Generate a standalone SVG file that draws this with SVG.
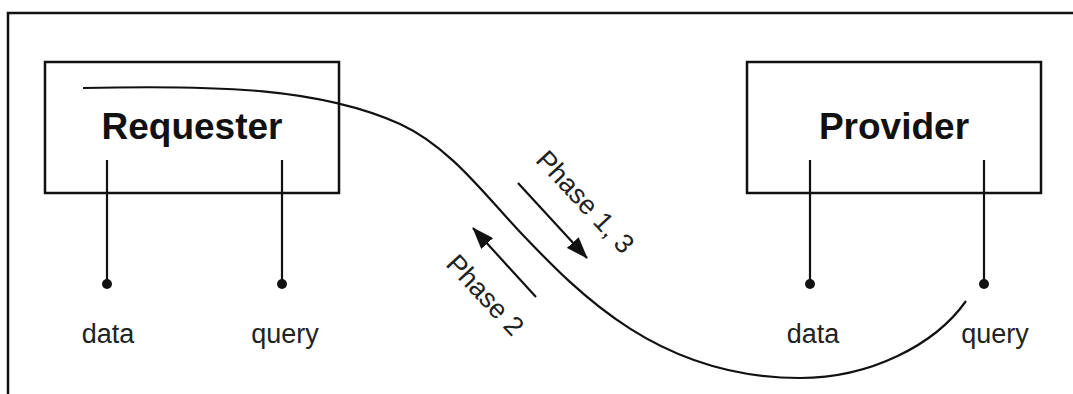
<svg xmlns="http://www.w3.org/2000/svg" width="1073" height="394" viewBox="0 0 1073 394">
<defs>
<style>
.box{fill:none;stroke:#111;stroke-width:2.5}
.ln{fill:none;stroke:#111;stroke-width:2.2}
.dot{fill:#111}
.title{font-family:"Liberation Sans",Arial,sans-serif;font-weight:bold;font-size:37px;fill:#111;text-anchor:middle}
.lbl{font-family:"Liberation Sans",Arial,sans-serif;font-size:27px;fill:#222;text-anchor:middle}
</style>
<marker id="ah" viewBox="0 0 22 16" refX="21" refY="8" markerWidth="22" markerHeight="16" markerUnits="userSpaceOnUse" orient="auto">
<path d="M0,0 L22,8 L0,16 Z" fill="#111"/>
</marker>
</defs>
<rect width="1073" height="394" fill="#fff"/>
<g id="frame">
<path class="box" d="M8,394 V13 H1073"/>
</g>
<g id="requester">
<rect class="box" x="45" y="62" width="294" height="131"/>
<text class="title" x="192" y="139">Requester</text>
<line class="ln" x1="107" y1="160" x2="107" y2="284"/>
<circle class="dot" cx="107" cy="284" r="5"/>
<text class="lbl" x="108" y="343">data</text>
<line class="ln" x1="282" y1="160" x2="282" y2="284"/>
<circle class="dot" cx="282" cy="284" r="5"/>
<text class="lbl" x="285" y="343">query</text>
</g>
<g id="provider">
<rect class="box" x="747" y="62" width="294" height="131"/>
<text class="title" x="894" y="139">Provider</text>
<line class="ln" x1="810" y1="160" x2="810" y2="284"/>
<circle class="dot" cx="810" cy="284" r="5"/>
<text class="lbl" x="813" y="343">data</text>
<line class="ln" x1="984" y1="160" x2="984" y2="284"/>
<circle class="dot" cx="984" cy="284" r="5"/>
<text class="lbl" x="995" y="343">query</text>
</g>
<g id="connectors">
<path class="ln" d="M83,88 C220,85 320,88 400,124 C450,147 485,195 520,232 C580,295 660,378 800,378 C870,378 935,345 966,301"/>
<g id="phase13">
<line class="ln" x1="518" y1="183" x2="587" y2="258" marker-end="url(#ah)"/>
<text class="lbl" transform="translate(585,202) rotate(47)" x="0" y="9">Phase 1, 3</text>
</g>
<g id="phase2">
<line class="ln" x1="536" y1="297" x2="473" y2="228" marker-end="url(#ah)"/>
<text class="lbl" transform="translate(485,295) rotate(47)" x="0" y="9">Phase 2</text>
</g>
</g>
</svg>
